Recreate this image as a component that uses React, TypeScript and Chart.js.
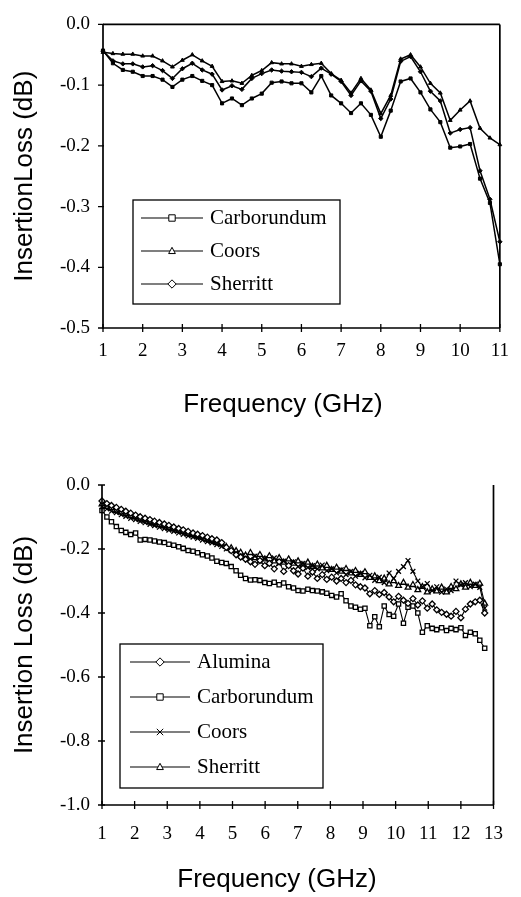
import React, { useEffect, useRef } from "react";
import { Chart, registerables } from "chart.js";

Chart.register(...registerables);

// ---------- Top chart data ----------
const TOP_FREQ = [1, 1.25, 1.5, 1.75, 2, 2.25, 2.5, 2.75, 3, 3.25, 3.5, 3.75, 4, 4.25, 4.5, 4.75, 5, 5.25, 5.5, 5.75, 6, 6.25, 6.5, 6.75, 7, 7.25, 7.5, 7.75, 8, 8.25, 8.5, 8.75, 9, 9.25, 9.5, 9.75, 10, 10.25, 10.5, 10.75, 11];
const TOP_CARBORUNDUM = [-0.043, -0.064, -0.075, -0.078, -0.085, -0.085, -0.091, -0.103, -0.091, -0.085, -0.093, -0.100, -0.130, -0.122, -0.133, -0.122, -0.114, -0.096, -0.094, -0.097, -0.097, -0.112, -0.085, -0.117, -0.130, -0.146, -0.130, -0.149, -0.185, -0.142, -0.094, -0.089, -0.112, -0.140, -0.161, -0.203, -0.201, -0.197, -0.254, -0.294, -0.395];
const TOP_COORS = [-0.046, -0.048, -0.049, -0.049, -0.052, -0.052, -0.060, -0.070, -0.059, -0.050, -0.060, -0.069, -0.094, -0.093, -0.097, -0.084, -0.076, -0.063, -0.065, -0.065, -0.069, -0.066, -0.064, -0.081, -0.092, -0.113, -0.089, -0.108, -0.147, -0.117, -0.057, -0.050, -0.070, -0.097, -0.113, -0.158, -0.141, -0.126, -0.171, -0.187, -0.198];
const TOP_SHERRITT = [-0.044, -0.060, -0.065, -0.065, -0.070, -0.068, -0.076, -0.089, -0.073, -0.064, -0.075, -0.082, -0.108, -0.101, -0.107, -0.089, -0.081, -0.075, -0.077, -0.078, -0.079, -0.086, -0.072, -0.082, -0.094, -0.117, -0.093, -0.110, -0.155, -0.123, -0.061, -0.053, -0.078, -0.110, -0.126, -0.179, -0.173, -0.170, -0.241, -0.288, -0.358];
const TOP_X_TICKS = [1, 2, 3, 4, 5, 6, 7, 8, 9, 10, 11];
const TOP_Y_TICKS = [-0.5, -0.4, -0.3, -0.2, -0.1, 0];

// ---------- Bottom chart data ----------
const BOT_FREQ = [1.00, 1.15, 1.29, 1.44, 1.59, 1.73, 1.88, 2.03, 2.17, 2.32, 2.47, 2.61, 2.76, 2.91, 3.05, 3.20, 3.35, 3.49, 3.64, 3.79, 3.93, 4.08, 4.23, 4.37, 4.52, 4.67, 4.81, 4.96, 5.11, 5.25, 5.40, 5.55, 5.69, 5.84, 5.99, 6.13, 6.28, 6.43, 6.57, 6.72, 6.87, 7.01, 7.16, 7.31, 7.45, 7.60, 7.75, 7.89, 8.04, 8.19, 8.33, 8.48, 8.63, 8.77, 8.92, 9.06, 9.21, 9.36, 9.50, 9.65, 9.80, 9.94, 10.09, 10.24, 10.38, 10.53, 10.68, 10.82, 10.97, 11.12, 11.26, 11.41, 11.56, 11.70, 11.85, 12.00, 12.14, 12.29, 12.44, 12.58, 12.73];
const BOT_ALUMINA = [
  -0.050, -0.058, -0.064, -0.070, -0.076, -0.082, -0.088, -0.094, -0.099, -0.104,
  -0.108, -0.113, -0.117, -0.122, -0.126, -0.131, -0.136, -0.140, -0.145, -0.150,
  -0.154, -0.158, -0.163, -0.168, -0.172, -0.180, -0.195, -0.205, -0.218, -0.225,
  -0.232, -0.240, -0.248, -0.236, -0.252, -0.245, -0.262, -0.240, -0.270, -0.252,
  -0.268, -0.278, -0.260, -0.285, -0.272, -0.292, -0.280, -0.295, -0.288, -0.300,
  -0.292, -0.305, -0.298, -0.312, -0.318, -0.322, -0.340, -0.330, -0.342, -0.336,
  -0.350, -0.365, -0.348, -0.360, -0.370, -0.355, -0.375, -0.362, -0.385, -0.372,
  -0.390, -0.398, -0.404, -0.410, -0.395, -0.415, -0.388, -0.372, -0.365, -0.360,
  -0.400];
const BOT_CARBORUNDUM = [
  -0.080, -0.100, -0.115, -0.130, -0.142, -0.148, -0.155, -0.150, -0.172, -0.170,
  -0.172, -0.175, -0.178, -0.180, -0.185, -0.188, -0.193, -0.198, -0.205, -0.207,
  -0.212, -0.218, -0.222, -0.228, -0.238, -0.242, -0.245, -0.255, -0.268, -0.282,
  -0.292, -0.297, -0.296, -0.298, -0.305, -0.308, -0.304, -0.312, -0.306, -0.318,
  -0.322, -0.330, -0.331, -0.326, -0.330, -0.331, -0.334, -0.338, -0.345, -0.350,
  -0.340, -0.362, -0.378, -0.382, -0.388, -0.385, -0.440, -0.412, -0.443, -0.378,
  -0.405, -0.410, -0.372, -0.432, -0.382, -0.378, -0.400, -0.460, -0.440, -0.448,
  -0.452, -0.446, -0.455, -0.448, -0.452, -0.446, -0.470, -0.460, -0.465, -0.485,
  -0.510];
const BOT_COORS = [
  -0.068, -0.075, -0.082, -0.086, -0.093, -0.098, -0.104, -0.108, -0.114, -0.118,
  -0.123, -0.127, -0.132, -0.136, -0.141, -0.145, -0.150, -0.154, -0.159, -0.163,
  -0.167, -0.172, -0.177, -0.181, -0.186, -0.192, -0.200, -0.205, -0.212, -0.222,
  -0.228, -0.232, -0.222, -0.238, -0.230, -0.242, -0.228, -0.245, -0.238, -0.250,
  -0.240, -0.255, -0.245, -0.258, -0.252, -0.262, -0.250, -0.268, -0.262, -0.275,
  -0.265, -0.280, -0.270, -0.285, -0.276, -0.290, -0.282, -0.298, -0.288, -0.305,
  -0.275, -0.292, -0.270, -0.255, -0.236, -0.270, -0.300, -0.318, -0.308, -0.330,
  -0.318, -0.335, -0.325, -0.330, -0.300, -0.312, -0.305, -0.318, -0.310, -0.320,
  -0.385];
const BOT_SHERRITT = [
  -0.060, -0.068, -0.072, -0.080, -0.085, -0.090, -0.097, -0.100, -0.107, -0.110,
  -0.116, -0.119, -0.125, -0.128, -0.134, -0.137, -0.143, -0.146, -0.152, -0.155,
  -0.161, -0.163, -0.170, -0.174, -0.180, -0.185, -0.193, -0.197, -0.206, -0.211,
  -0.220, -0.212, -0.228, -0.218, -0.232, -0.222, -0.238, -0.228, -0.242, -0.232,
  -0.245, -0.238, -0.250, -0.242, -0.255, -0.248, -0.260, -0.252, -0.265, -0.258,
  -0.270, -0.262, -0.276, -0.268, -0.280, -0.272, -0.290, -0.285, -0.300, -0.292,
  -0.310, -0.300, -0.315, -0.305, -0.320, -0.312, -0.328, -0.318, -0.335, -0.325,
  -0.332, -0.320, -0.335, -0.318, -0.325, -0.310, -0.320, -0.305, -0.315, -0.308,
  -0.370];
const BOT_X_TICKS = [1, 2, 3, 4, 5, 6, 7, 8, 9, 10, 11, 12, 13];
const BOT_Y_TICKS = [-1.0, -0.8, -0.6, -0.4, -0.2, 0];

const SERIF = '"Liberation Serif", "Times New Roman", serif';
const SANS = '"Liberation Sans", Arial, sans-serif';

function drawMarker(ctx: CanvasRenderingContext2D, style: string, cx: number, cy: number, r: number) {
  ctx.beginPath();
  if (style === "rect") {
    ctx.rect(cx - r, cy - r, 2 * r, 2 * r);
  } else if (style === "triangle") {
    ctx.moveTo(cx, cy - r * 1.15);
    ctx.lineTo(cx + r * 1.05, cy + r * 0.8);
    ctx.lineTo(cx - r * 1.05, cy + r * 0.8);
    ctx.closePath();
  } else if (style === "rectRot") {
    ctx.moveTo(cx, cy - r * 1.3);
    ctx.lineTo(cx + r * 1.3, cy);
    ctx.lineTo(cx, cy + r * 1.3);
    ctx.lineTo(cx - r * 1.3, cy);
    ctx.closePath();
  } else if (style === "crossRot") {
    ctx.moveTo(cx - r, cy - r);
    ctx.lineTo(cx + r, cy + r);
    ctx.moveTo(cx + r, cy - r);
    ctx.lineTo(cx - r, cy + r);
    ctx.stroke();
    return;
  }
  ctx.fillStyle = "#fff";
  ctx.fill();
  ctx.stroke();
}

function makeFramePlugin(cfg: any) {
  return {
    id: "frame_" + cfg.key,
    afterDraw(chart: any) {
      const { ctx, chartArea: a, scales } = chart;
      const xs = scales.x;
      const ys = scales.y;
      ctx.save();
      ctx.strokeStyle = "#000";
      ctx.lineWidth = cfg.axisWidth;
      ctx.beginPath();
      ctx.moveTo(a.left, a.top);
      ctx.lineTo(a.left, a.bottom);
      ctx.lineTo(a.right, a.bottom);
      if (cfg.rightBorder) {
        ctx.moveTo(a.right, a.bottom);
        ctx.lineTo(a.right, a.top);
      }
      if (cfg.topBorder) {
        ctx.moveTo(a.left, a.top);
        ctx.lineTo(a.right, a.top);
      }
      ctx.stroke();

      ctx.lineWidth = 1.3;
      ctx.beginPath();
      xs.ticks.forEach((t: any) => {
        const px = xs.getPixelForValue(t.value);
        ctx.moveTo(px, a.bottom - cfg.xTickIn);
        ctx.lineTo(px, a.bottom + cfg.xTickOut);
      });
      ys.ticks.forEach((t: any) => {
        const py = ys.getPixelForValue(t.value);
        ctx.moveTo(a.left - cfg.yTickOut, py);
        ctx.lineTo(a.left + cfg.yTickIn, py);
      });
      ctx.stroke();

      // axis titles
      ctx.fillStyle = "#000";
      ctx.font = `${cfg.titleSize}px ${SANS}`;
      ctx.textAlign = "center";
      ctx.textBaseline = "alphabetic";
      ctx.fillText(cfg.xTitle, cfg.xTitleX, cfg.xTitleY);
      ctx.save();
      ctx.translate(cfg.yTitleX, (a.top + a.bottom) / 2);
      ctx.rotate(-Math.PI / 2);
      ctx.textBaseline = "middle";
      ctx.fillText(cfg.yTitle, 0, 0);
      ctx.restore();

      // legend box
      const L = cfg.legend;
      ctx.fillStyle = "#fff";
      ctx.fillRect(L.x, L.y, L.w, L.h);
      ctx.strokeStyle = "#000";
      ctx.lineWidth = 1.3;
      ctx.strokeRect(L.x, L.y, L.w, L.h);
      chart.data.datasets.forEach((ds: any, i: number) => {
        const ry = L.rowY[i];
        ctx.strokeStyle = "#000";
        ctx.lineWidth = 1.2;
        ctx.beginPath();
        ctx.moveTo(L.lineX1, ry);
        ctx.lineTo(L.lineX2, ry);
        ctx.stroke();
        ctx.lineWidth = 1;
        drawMarker(ctx, ds.pointStyle, (L.lineX1 + L.lineX2) / 2, ry, L.markerR);
        ctx.fillStyle = "#000";
        ctx.font = `${L.fontSize}px ${SERIF}`;
        ctx.textAlign = "left";
        ctx.textBaseline = "middle";
        ctx.fillText(ds.label, L.textX, ry);
      });
      ctx.restore();
    },
  };
}

function toPoints(xs: number[], ys: number[]) {
  return xs.map((x, i) => ({ x, y: ys[i] }));
}

function topConfig(): any {
  const base = {
    borderColor: "#000",
    borderWidth: 1.5,
    pointRadius: 2.2,
    pointBackgroundColor: "#000",
    pointBorderColor: "#000",
    pointBorderWidth: 1,
    fill: false,
    tension: 0,
    clip: 8,
  };
  return {
    type: "line",
    data: {
      datasets: [
        { ...base, label: "Carborundum", pointStyle: "rect", data: toPoints(TOP_FREQ, TOP_CARBORUNDUM) },
        { ...base, label: "Coors", pointStyle: "triangle", data: toPoints(TOP_FREQ, TOP_COORS) },
        { ...base, label: "Sherritt", pointStyle: "rectRot", data: toPoints(TOP_FREQ, TOP_SHERRITT) },
      ],
    },
    options: {
      responsive: false,
      animation: false,
      devicePixelRatio: 1,
      layout: { padding: { left: 0, right: 18, top: 13, bottom: 0 } },
      plugins: { legend: { display: false }, tooltip: { enabled: false } },
      scales: {
        x: {
          type: "linear",
          min: 1,
          max: 11,
          afterBuildTicks: (s: any) => {
            s.ticks = TOP_X_TICKS.map((v) => ({ value: v }));
          },
          afterFit: (s: any) => {
            s.height = 92;
          },
          grid: { display: false, drawTicks: false, tickLength: 0 },
          border: { display: false },
          ticks: {
            padding: 12,
            autoSkip: false,
            maxRotation: 0,
            color: "#000",
            font: { family: SERIF, size: 19 },
            callback: (v: any) => String(v),
          },
        },
        y: {
          type: "linear",
          min: -0.5,
          max: 0,
          afterBuildTicks: (s: any) => {
            s.ticks = TOP_Y_TICKS.map((v) => ({ value: v }));
          },
          afterFit: (s: any) => {
            s.width = 103;
          },
          grid: { display: false, drawTicks: false, tickLength: 0 },
          border: { display: false },
          ticks: {
            padding: 13,
            autoSkip: false,
            color: "#000",
            font: { family: SERIF, size: 19 },
            callback: (v: any) => Number(v).toFixed(1),
          },
        },
      },
    },
    plugins: [
      makeFramePlugin({
        key: "top",
        axisWidth: 1.7,
        rightBorder: true,
        topBorder: true,
        xTickIn: 4,
        xTickOut: 4,
        yTickIn: 1,
        yTickOut: 5,
        titleSize: 26,
        xTitle: "Frequency (GHz)",
        xTitleX: 283,
        xTitleY: 412,
        yTitle: "InsertionLoss (dB)",
        yTitleX: 25,
        legend: {
          x: 133, y: 200, w: 207, h: 104,
          rowY: [218, 251, 284],
          lineX1: 141, lineX2: 203, markerR: 3.2,
          textX: 210, fontSize: 21,
        },
      }),
    ],
  };
}

function bottomConfig(): any {
  const base = {
    borderColor: "#000",
    borderWidth: 1.1,
    pointRadius: 3,
    pointBackgroundColor: "#fff",
    pointBorderColor: "#000",
    pointBorderWidth: 1.3,
    fill: false,
    tension: 0,
    clip: 8,
  };
  return {
    type: "line",
    data: {
      datasets: [
        { ...base, label: "Alumina", pointStyle: "rectRot", data: toPoints(BOT_FREQ, BOT_ALUMINA) },
        { ...base, label: "Carborundum", pointStyle: "rect", data: toPoints(BOT_FREQ, BOT_CARBORUNDUM) },
        { ...base, label: "Coors", pointStyle: "crossRot", pointRadius: 3.4, data: toPoints(BOT_FREQ, BOT_COORS) },
        { ...base, label: "Sherritt", pointStyle: "triangle", pointRadius: 3.3, data: toPoints(BOT_FREQ, BOT_SHERRITT) },
      ],
    },
    options: {
      responsive: false,
      animation: false,
      devicePixelRatio: 1,
      layout: { padding: { left: 0, right: 19, top: 65, bottom: 0 } },
      plugins: { legend: { display: false }, tooltip: { enabled: false } },
      scales: {
        x: {
          type: "linear",
          min: 1,
          max: 13,
          afterBuildTicks: (s: any) => {
            s.ticks = BOT_X_TICKS.map((v) => ({ value: v }));
          },
          afterFit: (s: any) => {
            s.height = 92;
          },
          grid: { display: false, drawTicks: false, tickLength: 0 },
          border: { display: false },
          ticks: {
            padding: 18,
            autoSkip: false,
            maxRotation: 0,
            color: "#000",
            font: { family: SERIF, size: 19 },
            callback: (v: any) => String(v),
          },
        },
        y: {
          type: "linear",
          min: -1,
          max: 0,
          afterBuildTicks: (s: any) => {
            s.ticks = BOT_Y_TICKS.map((v) => ({ value: v }));
          },
          afterFit: (s: any) => {
            s.width = 102;
          },
          grid: { display: false, drawTicks: false, tickLength: 0 },
          border: { display: false },
          ticks: {
            padding: 12,
            autoSkip: false,
            color: "#000",
            font: { family: SERIF, size: 19 },
            callback: (v: any) => Number(v).toFixed(1),
          },
        },
      },
    },
    plugins: [
      makeFramePlugin({
        key: "bottom",
        axisWidth: 1.7,
        rightBorder: true,
        topBorder: false,
        xTickIn: 4,
        xTickOut: 4,
        yTickIn: 3,
        yTickOut: 4,
        titleSize: 26,
        xTitle: "Frequency (GHz)",
        xTitleX: 277,
        xTitleY: 467,
        yTitle: "Insertion Loss (dB)",
        yTitleX: 25,
        legend: {
          x: 120, y: 224, w: 203, h: 144,
          rowY: [242, 277, 312, 347],
          lineX1: 130, lineX2: 190, markerR: 3.2,
          textX: 197, fontSize: 21,
        },
      }),
    ],
  };
}

function ChartCanvas({ makeConfig, top, width, height }: any) {
  const ref = useRef<HTMLCanvasElement | null>(null);
  useEffect(() => {
    if (!ref.current) return;
    const chart = new Chart(ref.current, makeConfig());
    return () => chart.destroy();
  }, []);
  return (
    <canvas
      ref={ref}
      width={width}
      height={height}
      style={{ position: "absolute", left: 0, top, width, height, display: "block" }}
    />
  );
}

export default function App() {
  return (
    <div style={{ position: "absolute", left: 0, top: 0, width: 521, height: 897, background: "#fff", overflow: "hidden" }}>
      <ChartCanvas makeConfig={topConfig} top={0} width={521} height={420} />
      <ChartCanvas makeConfig={bottomConfig} top={420} width={521} height={477} />
    </div>
  );
}
